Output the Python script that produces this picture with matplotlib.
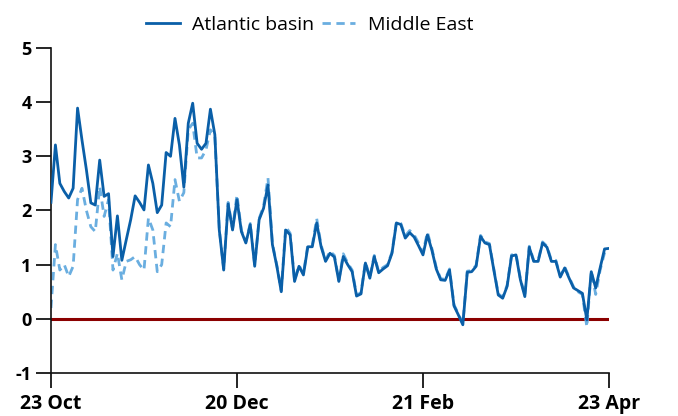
import matplotlib
matplotlib.use("Agg")
import matplotlib.pyplot as plt
import numpy as np

# Tick labels for the date axis
date_labels = ["23 Oct", "20 Dec", "21 Feb", "23 Apr"]

# Atlantic basin series (daily observations)
atlantic = [
    2.15, 3.21, 2.50, 2.35, 2.23, 2.41, 3.89, 3.30, 2.75, 2.14,
    2.10, 2.93, 2.26, 2.31, 1.15, 1.90, 1.08, 1.46, 1.83, 2.27,
    2.15, 2.01, 2.84, 2.50, 1.96, 2.10, 3.07, 3.00, 3.70, 3.21,
    2.43, 3.61, 3.98, 3.24, 3.13, 3.24, 3.87, 3.40, 1.64, 0.90,
    2.12, 1.64, 2.20, 1.61, 1.40, 1.74, 0.97, 1.83, 2.04, 2.47,
    1.37, 0.97, 0.50, 1.64, 1.55, 0.69, 0.97, 0.81, 1.33, 1.33,
    1.77, 1.33, 1.06, 1.21, 1.14, 0.69, 1.15, 1.00, 0.87, 0.42,
    0.46, 1.03, 0.75, 1.15, 0.85, 0.92, 0.98, 1.21, 1.77, 1.74,
    1.49, 1.59, 1.51, 1.35, 1.18, 1.55, 1.27, 0.92, 0.72, 0.71,
    0.90, 0.24, 0.07, -0.11, 0.86, 0.87, 0.97, 1.52, 1.40, 1.37,
    0.90, 0.44, 0.38, 0.60, 1.16, 1.18, 0.72, 0.41, 1.32, 1.06,
    1.06, 1.40, 1.32, 1.06, 1.06, 0.77, 0.94, 0.75, 0.57, 0.52,
    0.47, -0.02, 0.87, 0.57, 0.94, 1.29, 1.30,
]

# Middle East series (daily observations)
middle_east = [
    0.20, 1.37, 0.90, 1.00, 0.78, 0.97, 2.20, 2.41, 2.00, 1.70,
    1.61, 2.44, 1.89, 2.20, 0.90, 1.21, 0.72, 1.06, 1.09, 1.15,
    1.00, 0.90, 1.86, 1.64, 0.87, 1.00, 1.77, 1.70, 2.57, 2.17,
    2.33, 3.49, 3.61, 2.97, 2.97, 3.12, 3.49, 3.37, 1.66, 0.92,
    2.15, 1.66, 2.29, 1.63, 1.42, 1.76, 0.99, 1.85, 2.08, 2.60,
    1.39, 0.99, 0.52, 1.70, 1.58, 0.71, 0.99, 0.83, 1.37, 1.36,
    1.85, 1.36, 1.08, 1.25, 1.17, 0.71, 1.20, 1.03, 0.90, 0.44,
    0.48, 1.05, 0.77, 1.17, 0.87, 0.95, 1.00, 1.23, 1.79, 1.76,
    1.53, 1.63, 1.55, 1.40, 1.22, 1.60, 1.30, 0.95, 0.74, 0.73,
    0.92, 0.26, 0.09, -0.09, 0.88, 0.89, 0.99, 1.54, 1.42, 1.39,
    0.92, 0.46, 0.40, 0.62, 1.18, 1.20, 0.74, 0.43, 1.34, 1.08,
    1.08, 1.42, 1.34, 1.08, 1.08, 0.79, 0.96, 0.77, 0.59, 0.50,
    0.45, -0.15, 0.88, 0.45, 0.90, 1.22, 1.28,
]

x = np.arange(len(atlantic))
n = len(atlantic) - 1
tick_pos = [0, n / 3, 2 * n / 3, n]

plt.rcParams["font.family"] = ["Open Sans", "DejaVu Sans"]
plt.rcParams["axes.unicode_minus"] = False

fig = plt.figure(figsize=(6.78, 4.16), dpi=100)
ax = fig.add_axes([0.0752, 0.1034, 0.8230, 0.7813])

ax.axhline(0, color="#8b0000", lw=2.2, zorder=1)
ax.plot(x, middle_east, color="#6aaee0", lw=2.0, ls=(0, (3, 2)),
        label="Middle East", zorder=2)
ax.plot(x, atlantic, color="#0a5fa8", lw=2.0, label="Atlantic basin", zorder=3)

ax.set_xlim(0, n)
ax.set_ylim(-1, 5)
ax.set_yticks(range(-1, 6))
ax.set_xticks(tick_pos)
ax.set_xticklabels(date_labels)

for s in ["top", "right"]:
    ax.spines[s].set_visible(False)
for s in ["left", "bottom"]:
    ax.spines[s].set_linewidth(1.2)
    ax.spines[s].set_color("#111111")

ax.tick_params(axis="y", direction="out", length=11, width=1.2, pad=3,
               labelsize=13)
ax.tick_params(axis="x", direction="out", length=11, width=1.2, pad=4,
               labelsize=14)
for lab in ax.get_xticklabels() + ax.get_yticklabels():
    lab.set_fontweight("bold")

handles, labels = ax.get_legend_handles_labels()
fig.legend(handles[::-1], labels[::-1], loc="center", ncol=2,
           bbox_to_anchor=(0.457, 0.94), frameon=False, fontsize=14,
           handlelength=1.7, columnspacing=0.4, handletextpad=0.65)

fig.savefig("out.png", dpi=100)
